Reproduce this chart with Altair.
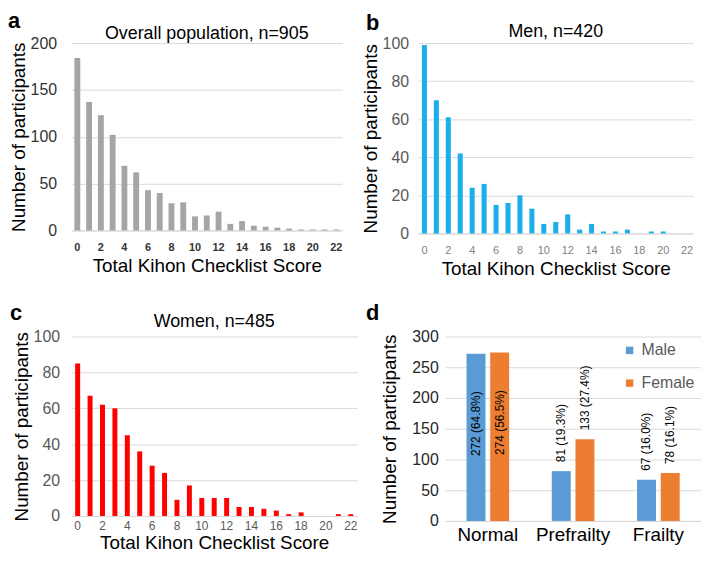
import altair as alt
import pandas as pd

FONT = "Liberation Sans"

scores = list(range(23))
overall = [184, 137, 123, 102, 69, 62, 43, 40, 29, 30, 15, 16, 20, 7, 10, 5, 4, 3, 2, 1, 1, 1, 1]
men = [99, 70, 61, 42, 24, 26, 15, 16, 20, 13, 5, 6, 10, 2, 5, 1, 1, 2, 0, 1, 1, 0, 0]
women = [85, 67, 62, 60, 45, 36, 28, 24, 9, 17, 10, 10, 10, 5, 5, 4, 3, 1, 2, 0, 0, 1, 1]

categories = ["Normal", "Prefrailty", "Frailty"]
sexes = ["Male", "Female"]
male_counts = [272, 81, 67]
female_counts = [274, 133, 78]
male_pct = ["64.8%", "19.3%", "16.0%"]
female_pct = ["56.5%", "27.4%", "16.1%"]


def text_layer(txt, tx, ty, size, weight, align):
    return alt.Chart(pd.DataFrame({"t": [txt]})).mark_text(
        font=FONT, fontSize=size, fontWeight=weight, color="black",
        align=align, baseline="alphabetic"
    ).encode(x=alt.value(tx), y=alt.value(ty), text="t:N")


def hist(counts, color, title, ymax, ystep, w, h, pad, letter, lx, ly,
         ylab_color, ylp, ytp, xlab_size, xlab_color, xlab_weight, xlp, xtp, toff):
    df = pd.DataFrame({"score": scores, "count": counts})
    bars = alt.Chart(df).mark_bar(color=color).encode(
        x=alt.X("score:O",
                scale=alt.Scale(domain=scores, paddingInner=pad, paddingOuter=pad / 2),
                axis=alt.Axis(values=scores[::2], labelAngle=0,
                              title="Total Kihon Checklist Score",
                              labelFontSize=xlab_size, labelColor=xlab_color,
                              labelFontWeight=xlab_weight,
                              labelPadding=xlp, titlePadding=xtp,
                              ticks=False, tickSize=0, grid=False,
                              domain=True, domainColor="#D9D9D9")),
        y=alt.Y("count:Q",
                scale=alt.Scale(domain=[0, ymax], nice=False),
                axis=alt.Axis(values=list(range(0, ymax + 1, ystep)),
                              title="Number of participants",
                              labelFontSize=16, labelColor=ylab_color,
                              labelPadding=ylp, titlePadding=ytp,
                              ticks=False, tickSize=0, domain=False,
                              grid=True, gridColor="#D9D9D9")),
    )
    return alt.layer(
        bars,
        text_layer(letter, lx, ly, 22, "bold", "left"),
        text_layer(title, w / 2, -toff, 18, "normal", "center"),
    ).properties(width=w, height=h)


pa = hist(overall, "#A5A5A5", "Overall population, n=905", 200, 50, 273, 189, 0.5,
          "a", -64, -15, "#333333", 15, 2, 11, "#333333", "bold", 11, 4, 4)
pb = hist(men, "#1AAFEA", "Men, n=420", 100, 20, 277, 192, 0.58,
          "b", -53, -13, "#595959", 10, 2, 11, "#7F7F7F", "normal", 11, 4, 6)
pc = hist(women, "#FF0000", "Women, n=485", 100, 20, 288, 181, 0.6,
          "c", -62, -17, "#595959", 12, 2, 12, "#595959", "normal", 5, 2, 10)

dd = pd.DataFrame({
    "cat": categories * 2,
    "sex": ["Male"] * 3 + ["Female"] * 3,
    "n": male_counts + female_counts,
    "pct": male_pct + female_pct,
})
dd["label"] = dd["n"].astype(str) + " (" + dd["pct"] + ")"

base = alt.Chart(dd).encode(
    x=alt.X("cat:N", sort=categories,
            scale=alt.Scale(paddingInner=0.5, paddingOuter=0.25),
            axis=alt.Axis(title=None, labelAngle=0, labelFontSize=19,
                          labelColor="black", labelPadding=5,
                          ticks=False, tickSize=0, domain=True,
                          domainColor="#D9D9D9", grid=False)),
    xOffset=alt.XOffset("sex:N", sort=sexes, scale=alt.Scale(paddingInner=0.2)),
)
ybar = alt.Y("n:Q", scale=alt.Scale(domain=[0, 300], nice=False),
             axis=alt.Axis(values=list(range(0, 301, 50)),
                           title="Number of participants",
                           labelFontSize=16, labelColor="#262626",
                           labelPadding=7, titlePadding=12, labelOverlap=False,
                           ticks=False, tickSize=0, domain=False,
                           grid=True, gridColor="#D9D9D9"))
dbars = base.mark_bar().encode(
    y=ybar,
    color=alt.Color("sex:N", sort=sexes,
                    scale=alt.Scale(domain=sexes, range=["#5B9BD5", "#ED7D31"]),
                    legend=alt.Legend(title=None, orient="none", legendX=178, legendY=6,
                                      symbolType="square", symbolSize=56,
                                      symbolStrokeWidth=0, labelFontSize=16,
                                      labelColor="#595959", labelFont=FONT,
                                      rowPadding=17, labelOffset=4)),
)
inside = base.transform_filter("datum.n > 200").mark_text(
    angle=270, align="right", baseline="middle", dx=-38, font=FONT, fontSize=12, color="black"
).encode(y=ybar, text="label:N")
above = base.transform_filter("datum.n <= 200").mark_text(
    angle=270, align="left", baseline="middle", dx=9, font=FONT, fontSize=12, color="black"
).encode(y=ybar, text="label:N")

pd_chart = alt.layer(dbars, inside, above, text_layer("d", -80, -17, 22, "bold", "left")).properties(
    width=258, height=186)

row1 = alt.hconcat(pa, pb, spacing=19)
row2 = alt.hconcat(pc, pd_chart, spacing=9).resolve_scale(color="independent").resolve_legend(color="independent")

chart = alt.vconcat(row1, row2, spacing=24).properties(padding=0).resolve_scale(
    color="independent").resolve_legend(color="independent").configure_view(
    stroke=None
).configure_axis(
    labelFont=FONT, titleFont=FONT, titleFontSize=19, titleFontWeight="normal",
    titleColor="black"
).configure_text(font=FONT)

chart.save("out.html", embed_options={"renderer": "svg", "actions": False})
